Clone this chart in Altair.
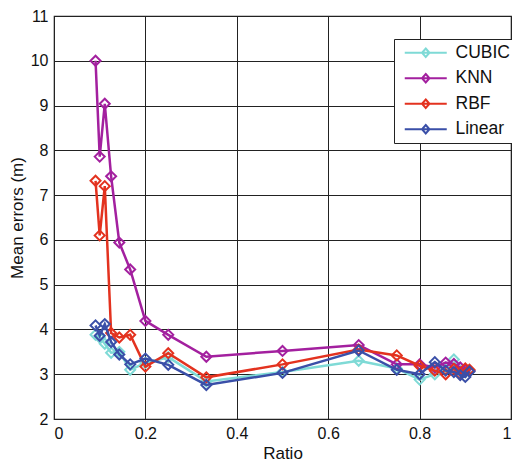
import altair as alt
import pandas as pd

# ---- data ----
ratios = [0.0909, 0.1, 0.1111, 0.125, 0.1429, 0.1667, 0.2, 0.25, 0.3333, 0.5,
          0.6667, 0.75, 0.8, 0.8333, 0.8571, 0.875, 0.8889, 0.9, 0.9091]
cubic = [3.88, 3.82, 3.68, 3.48, 3.50, 3.10, 3.25, 3.38, 2.84, 3.05,
         3.30, 3.13, 2.88, 3.00, 3.15, 3.33, 3.08, 3.05, 3.08]
knn = [10.0, 7.86, 9.04, 7.42, 5.94, 5.34, 4.19, 3.88, 3.39, 3.52,
       3.65, 3.22, 3.22, 3.15, 3.26, 3.23, 3.15, 3.10, 3.08]
rbf = [7.32, 6.10, 7.20, 3.92, 3.82, 3.88, 3.17, 3.47, 2.93, 3.22,
       3.55, 3.42, 3.19, 3.08, 3.00, 3.12, 3.00, 3.13, 3.10]
linear = [4.09, 3.86, 4.12, 3.72, 3.44, 3.22, 3.35, 3.21, 2.76, 3.03,
          3.53, 3.10, 3.00, 3.27, 3.08, 3.05, 2.98, 2.94, 3.06]

methods = ["CUBIC", "KNN", "RBF", "Linear"]
colors = ["#7fdad6", "#a3209f", "#e3321f", "#3a4fa8"]
series = [cubic, knn, rbf, linear]

x_ticks = [0, 0.2, 0.4, 0.6, 0.8, 1]
y_ticks = [2, 3, 4, 5, 6, 7, 8, 9, 10, 11]

rows = []
for m, vals in zip(methods, series):
    for r, v in zip(ratios, vals):
        rows.append({"Ratio": r, "Error": v, "Method": m})
df = pd.DataFrame(rows)

FONT = "Liberation Sans"

legend_symbol = "M-4.2,0H4.2M0,-0.85L0.75,0L0,0.85L-0.75,0Z"

x_enc = alt.X("Ratio:Q", scale=alt.Scale(domain=[0, 1], nice=False, zero=False),
              axis=alt.Axis(values=x_ticks, format="~g", title="Ratio"))
y_enc = alt.Y("Error:Q", scale=alt.Scale(domain=[2, 11], nice=False, zero=False),
              axis=alt.Axis(values=y_ticks, title="Mean errors (m)"))
color_enc = alt.Color(
    "Method:N",
    scale=alt.Scale(domain=methods, range=colors),
    legend=alt.Legend(
        orient="none", legendX=340, legendY=23, title=None,
        symbolType=legend_symbol, symbolSize=100, symbolStrokeWidth=2,
        symbolFillColor="transparent",
        symbolOffset=18, labelOffset=21,
        labelFontSize=17.5, labelFont=FONT, labelColor="#111",
        strokeColor="#222", fillColor="white", padding=5, rowPadding=6.5,
    ),
)

layers = []
for m in methods:
    base = alt.Chart(df).transform_filter(alt.datum.Method == m).encode(
        x=x_enc, y=y_enc, color=color_enc)
    layers.append(base.mark_line(strokeWidth=2.5))
    layers.append(base.mark_point(shape="diamond", filled=False, size=100,
                                  strokeWidth=2, opacity=1))

chart = alt.layer(*layers).properties(
    width=457, height=403,
    autosize=alt.AutoSizeParams(type="none"),
    padding={"left": 46, "top": 8, "right": 1, "bottom": 43},
).configure_view(
    stroke="#222", strokeWidth=1.2
).configure_axis(
    grid=True, gridColor="#222", gridOpacity=1, gridWidth=1,
    domain=False, ticks=False,
    labelFont=FONT, labelFontSize=16, labelColor="#111",
    titleFont=FONT, titleFontSize=17, titleFontWeight="normal", titleColor="#111",
).configure_axisX(
    labelPadding=6, titlePadding=4
).configure_axisY(
    labelPadding=6, titlePadding=4
)

chart.save("out.html", embed_options={"renderer": "svg", "actions": False})
